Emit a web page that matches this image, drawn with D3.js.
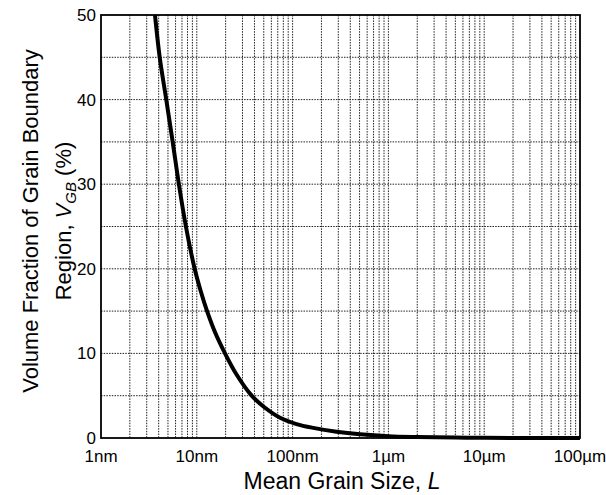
<!DOCTYPE html>
<html lang="en">
<head>
  <meta charset="UTF-8" />
  <title>Grain boundary volume fraction</title>
  <script src="https://d3js.org/d3.v7.min.js"></script>
  <style>
    body { margin: 0; background: #fff; font-family: "Liberation Sans", Arial, sans-serif; }
    .grid line { stroke: #222; stroke-width: 1; stroke-dasharray: 1.5,1.2; }
    .tick-label { font-size: 17px; fill: #000; }
  </style>
</head>
<body>
  <svg id="chart" width="606" height="495"></svg>
  <script>
  // grain size (nm) and grain boundary volume fraction (%)
  const grainSize = [3.66, 4.1, 4.8, 5.6, 6.5, 7.7, 9.5, 10.9, 12.8, 15.5, 19.7, 26, 37.4, 50, 74, 110, 164, 288, 506, 1000, 2000, 5000, 10000, 100000];
  const vgb       = [50,   45,  40,  35,  30,  25,  20,  17.5, 15,   12.5, 10,   7.5, 5,  3.7, 2.4, 1.65, 1.2, 0.75, 0.45, 0.22, 0.12, 0.05, 0.02, 0.002];
  const xTicks = [1, 10, 100, 1000, 10000, 100000];
  const xTickLabels = ["1nm", "10nm", "100nm", "1\u00b5m", "10\u00b5m", "100\u00b5m"];
  const yTicks = [0, 10, 20, 30, 40, 50];
  const yGrid = [5, 10, 15, 20, 25, 30, 35, 40, 45];

  const svg = d3.select("#chart"),
        margin = { top: 15, right: 26, bottom: 57, left: 101 },
        width = +svg.attr("width") - margin.left - margin.right,
        height = +svg.attr("height") - margin.top - margin.bottom,
        g = svg.append("g").attr("transform", `translate(${margin.left},${margin.top})`);

  const x = d3.scaleLog().domain([1, 100000]).range([0, width]);
  const y = d3.scaleLinear().domain([0, 50]).range([height, 0]);

  // minor log grid: 2..10 in every decade
  const xGrid = [];
  for (let d = 0; d < 5; d++) for (let m = 2; m <= 10; m++) {
    const v = m * Math.pow(10, d);
    if (v < 100000) xGrid.push(v);
  }

  const grid = g.append("g").attr("class", "grid");
  grid.selectAll(".vx").data(xGrid).join("line")
    .attr("x1", d => x(d)).attr("x2", d => x(d))
    .attr("y1", 0).attr("y2", height);
  grid.selectAll(".hy").data(yGrid).join("line")
    .attr("x1", 0).attr("x2", width)
    .attr("y1", d => y(d)).attr("y2", d => y(d));

  // frame
  g.append("rect").attr("width", width).attr("height", height)
    .attr("fill", "none").attr("stroke", "#000").attr("stroke-width", 1.8);

  // curve
  const pts = grainSize.map((d, i) => [d, vgb[i]]);
  g.append("path").datum(pts)
    .attr("fill", "none").attr("stroke", "#000").attr("stroke-width", 4)
    .attr("stroke-linejoin", "round")
    .attr("d", d3.line().x(d => x(d[0])).y(d => y(d[1])).curve(d3.curveCatmullRom));

  // axes labels
  g.selectAll(".xl").data(xTicks).join("text")
    .attr("class", "tick-label")
    .attr("x", d => x(d)).attr("y", height + 24)
    .attr("text-anchor", "middle")
    .text((d, i) => xTickLabels[i]);

  g.selectAll(".yl").data(yTicks).join("text")
    .attr("class", "tick-label")
    .attr("x", -5).attr("y", d => y(d) + 6)
    .attr("text-anchor", "end")
    .text(d => d);

  // titles
  const xt = svg.append("text")
    .attr("x", 342).attr("y", 489)
    .attr("text-anchor", "middle").attr("font-size", 23);
  xt.append("tspan").text("Mean Grain Size, ");
  xt.append("tspan").attr("font-style", "italic").text("L");

  const yt = svg.append("g").attr("transform", "translate(0,221) rotate(-90)");
  yt.append("text").attr("x", 0).attr("y", 38)
    .attr("text-anchor", "middle").attr("font-size", 22)
    .text("Volume Fraction of Grain Boundary");
  const yt2 = yt.append("text").attr("x", 0).attr("y", 71)
    .attr("text-anchor", "middle").attr("font-size", 22);
  yt2.append("tspan").text("Region,  ");
  yt2.append("tspan").attr("font-style", "italic").text("V");
  yt2.append("tspan").attr("font-style", "italic").attr("font-size", 15).attr("dy", 5).text("GB");
  yt2.append("tspan").attr("dy", -5).text("  (%)");
  </script>
</body>
</html>
